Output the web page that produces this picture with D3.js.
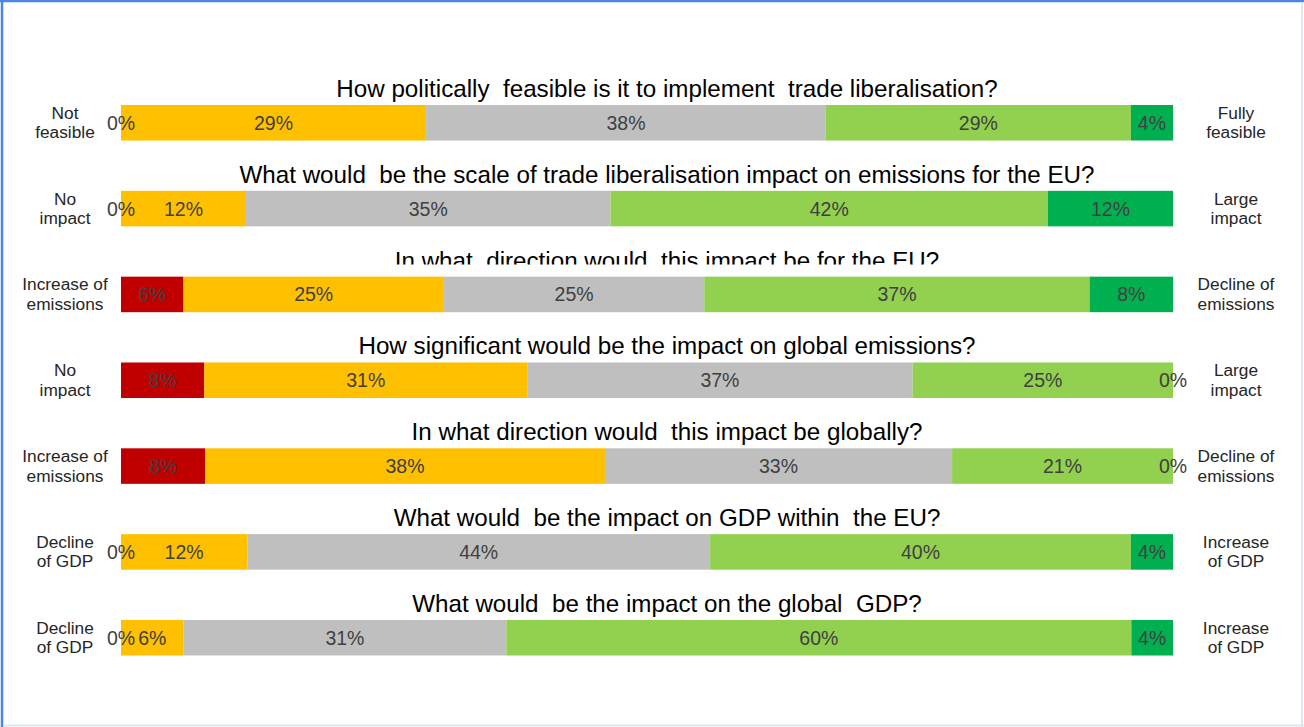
<!DOCTYPE html>
<html>
<head>
<meta charset="utf-8">
<script src="https://cdn.jsdelivr.net/npm/d3@7"></script>
<style>
  html, body { margin: 0; padding: 0; background: #ffffff; }
  svg { display: block; font-family: "Liberation Sans", Arial, sans-serif; }
  .title { white-space: pre; }
</style>
</head>
<body>
<svg id="chart" width="1304" height="727"></svg>
<script>
// Survey questions, one stacked bar per question
const questions = [
  "How politically  feasible is it to implement  trade liberalisation?",
  "What would  be the scale of trade liberalisation impact on emissions for the EU?",
  "In what  direction would  this impact be for the EU?",
  "How significant would be the impact on global emissions?",
  "In what direction would  this impact be globally?",
  "What would  be the impact on GDP within  the EU?",
  "What would  be the impact on the global  GDP?"
];

// Scale end labels (left = low end, right = high end)
const leftLabels = [
  ["Not", "feasible"],
  ["No", "impact"],
  ["Increase of", "emissions"],
  ["No", "impact"],
  ["Increase of", "emissions"],
  ["Decline", "of GDP"],
  ["Decline", "of GDP"]
];
const rightLabels = [
  ["Fully", "feasible"],
  ["Large", "impact"],
  ["Decline of", "emissions"],
  ["Large", "impact"],
  ["Decline of", "emissions"],
  ["Increase", "of GDP"],
  ["Increase", "of GDP"]
];

// Share of answers (%) at each point of the five-step scale
const level1 = [0, 0, 6, 8, 8, 0, 0];
const level2 = [29, 12, 25, 31, 38, 12, 6];
const level3 = [38, 35, 25, 37, 33, 44, 31];
const level4 = [29, 42, 37, 25, 21, 40, 60];
const level5 = [4, 12, 8, 0, 0, 4, 4];

const levelKeys = ["level1", "level2", "level3", "level4", "level5"];
const levelColors = ["#c00000", "#ffc000", "#bfbfbf", "#92d050", "#00b050"];

const rows = questions.map((q, i) => ({
  question: q,
  level1: level1[i], level2: level2[i], level3: level3[i],
  level4: level4[i], level5: level5[i]
}));

const svg = d3.select("#chart");
const W = 1304, H = 727;

// Frame
svg.append("line").attr("x1", 0).attr("x2", W).attr("y1", 1).attr("y2", 1)
  .attr("stroke", "#4a86e8").attr("stroke-width", 2.5);
svg.append("line").attr("x1", 2).attr("x2", 2).attr("y1", 0).attr("y2", H)
  .attr("stroke", "#4a86e8").attr("stroke-width", 2.5);
svg.append("line").attr("x1", W - 2).attr("x2", W - 2).attr("y1", 2).attr("y2", H)
  .attr("stroke", "#dde6f4").attr("stroke-width", 2);
svg.append("line").attr("x1", 3).attr("x2", W).attr("y1", H - 1.5).attr("y2", H - 1.5)
  .attr("stroke", "#dde6f4").attr("stroke-width", 2);

// Scales
const x = d3.scaleLinear().domain([0, 1]).range([121, 1173]);
const y = d3.scaleBand().domain(questions).range([105, 655.5])
  .paddingInner(0.586).paddingOuter(0);
const color = d3.scaleOrdinal().domain(levelKeys).range(levelColors);

// Each bar is normalised to the full width
const stacked = d3.stack().keys(levelKeys).offset(d3.stackOffsetExpand)(rows);

const layers = svg.append("g").selectAll("g.layer")
  .data(stacked).join("g").attr("class", "layer")
  .attr("fill", d => color(d.key));

layers.selectAll("rect")
  .data(d => d.map(v => ({ v, key: d.key })))
  .join("rect")
  .attr("x", d => x(d.v[0]))
  .attr("y", d => y(d.v.data.question))
  .attr("width", d => Math.max(0, x(d.v[1]) - x(d.v[0])))
  .attr("height", y.bandwidth());

// Value labels, centred on each segment (zero segments keep their label at the edge)
const labels = svg.append("g");
stacked.forEach(layer => {
  layer.forEach(v => {
    labels.append("text")
      .attr("x", (x(v[0]) + x(v[1])) / 2)
      .attr("y", y(v.data.question) + y.bandwidth() / 2 + 7)
      .attr("text-anchor", "middle")
      .attr("font-size", 19.5)
      .attr("fill", "#404040")
      .text(v.data[layer.key] + "%");
  });
});

// Question titles; the third one is trimmed at the bar edge
const titleCenter = (x.range()[0] + x.range()[1]) / 2 + 20;
svg.append("clipPath").attr("id", "clip-title-3")
  .append("rect").attr("x", 0).attr("y", 230).attr("width", W).attr("height", 34.5);

svg.append("g").selectAll("text.title")
  .data(questions).join("text")
  .attr("class", "title")
  .attr("x", titleCenter)
  .attr("y", d => y(d) - 8)
  .attr("text-anchor", "middle")
  .attr("font-size", 24.2)
  .attr("fill", "#000000")
  .attr("clip-path", (d, i) => i === 2 ? "url(#clip-title-3)" : null)
  .text(d => d);

// End labels
function sideLabels(list, cx) {
  const g = svg.append("g");
  list.forEach((lines, i) => {
    const cy = y(questions[i]) + y.bandwidth() / 2;
    lines.forEach((t, j) => {
      g.append("text")
        .attr("x", cx)
        .attr("y", cy - 4 + j * 19.5)
        .attr("text-anchor", "middle")
        .attr("font-size", 17.3)
        .attr("fill", "#262626")
        .text(t);
    });
  });
}
sideLabels(leftLabels, 65);
sideLabels(rightLabels, 1236);
</script>
</body>
</html>
